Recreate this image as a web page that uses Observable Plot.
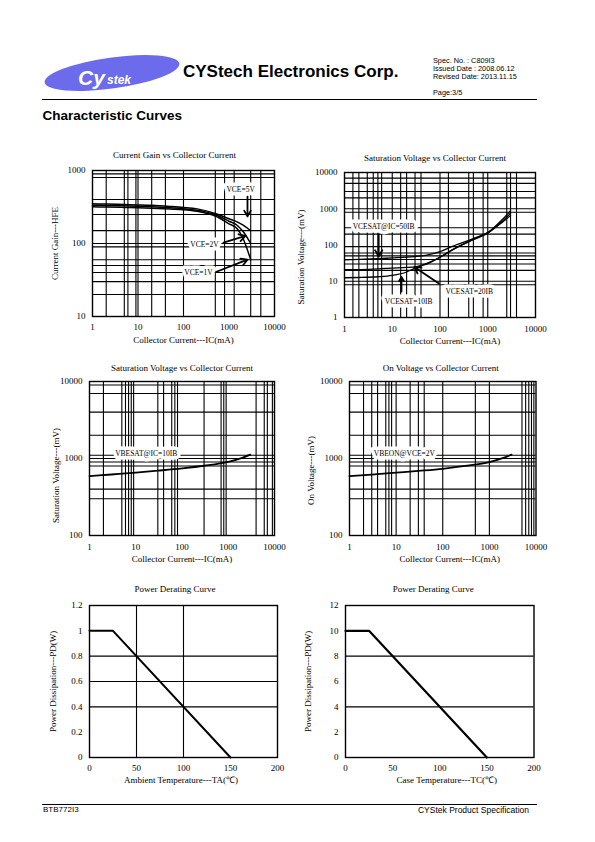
<!DOCTYPE html>
<html><head><meta charset="utf-8">
<script src="https://cdn.jsdelivr.net/npm/d3@7"></script>
<script src="https://cdn.jsdelivr.net/npm/@observablehq/plot@0.6"></script>
<style>
body{margin:0;background:#fff;}
#page{position:relative;width:595px;height:842px;overflow:hidden;font-family:"Liberation Sans",Arial,sans-serif;color:#000;}
.abs{position:absolute;white-space:nowrap;line-height:1;}
.rule{position:absolute;height:0;border-top:1.2px solid #000;}
</style></head><body><div id="page">
<svg class="abs" style="left:40px;top:50px" width="150" height="45">
  <ellipse cx="72" cy="23" rx="68" ry="15.5" transform="rotate(-8 72 23)" fill="#6b6bec"/>
  <text x="38" y="35" fill="#fff" font-family="Liberation Sans" font-weight="bold" font-style="italic" font-size="21">Cy</text>
  <text x="67" y="34" fill="#fff" font-family="Liberation Sans" font-weight="bold" font-style="italic" font-size="12">stek</text>
</svg>
<div class="abs" style="left:183px;top:62.9px;font-weight:bold;font-size:17px;">CYStech Electronics Corp.</div>
<div class="abs" style="left:433px;top:57px;font-size:7.3px;">Spec. No. : C809I3</div>
<div class="abs" style="left:433px;top:65px;font-size:7.3px;">Issued Date : 2008.06.12</div>
<div class="abs" style="left:433px;top:73px;font-size:7.3px;">Revised Date: 2013.11.15</div>
<div class="abs" style="left:433px;top:89px;font-size:7.3px;">Page:3/5</div>
<div class="rule" style="left:42px;width:495px;top:99px;"></div>
<div class="abs" style="left:42.5px;top:109.3px;font-weight:bold;font-size:13.5px;">Characteristic Curves</div>
<div class="rule" style="left:42px;width:495px;top:803.5px;"></div>
<div class="abs" style="left:43px;top:805.5px;font-size:8px;">BTB772I3</div>
<div class="abs" style="right:66px;top:805.5px;font-size:8.5px;">CYStek Product Specification</div>
</div>
<script>
// ---------- data ----------
const logTicks = [1, 10, 100, 1000, 10000];

// Chart 1: Current gain vs collector current
const icGain = [1, 2, 5, 10, 20, 50, 100, 200, 500, 1000, 1500, 2000, 3000];
const hfe5V = [350, 347, 342, 338, 333, 322, 312, 298, 258, 218, 198, 180, 150];
const hfe2V = [335, 332, 328, 324, 318, 308, 300, 285, 248, 202, 178, 148, 100];
const hfe1V = [318, 316, 312, 308, 303, 296, 290, 276, 238, 186, 160, 120, 60];
const gainGridX = [2, 5, 6, 9, 10, 20, 40, 100, 500, 800, 1300, 3000, 5000];
const gainGridY = [20, 30, 40, 50, 60, 90, 100, 150, 250, 400, 800, 900];
const gainLabels = [
  {x: 1800, y: 550, text: "VCE=5V"},
  {x: 290, y: 97, text: "VCE=2V"},
  {x: 214, y: 40, text: "VCE=1V"}
];
const gainArrows = [
  {x1: 2550, y1: 440, x2: 2550, y2: 235},
  {x1: 757, y1: 103, x2: 2300, y2: 127},
  {x1: 531, y1: 41, x2: 2550, y2: 60}
];

// Chart 2: VCE(sat) vs collector current
const icSat = [1, 2, 5, 10, 20, 30, 50, 100, 200, 500, 1000, 2000, 3000];
const vce50IB = [39, 40, 42, 44, 46, 48, 52, 66, 97, 150, 220, 420, 650];
const vce20IB = [21, 21, 22, 23, 24, 25, 29, 46, 80, 140, 210, 450, 750];
const vce10IB = [12.5, 12.7, 13.3, 14.5, 18, 23, 30, 46, 78, 145, 220, 500, 880];
const satGridX = [1.5, 2, 3, 4, 5, 6, 10, 15, 20, 30, 40, 100, 150, 400, 500, 800, 1000, 2500, 3000, 4000];
const satGridY = [8, 10, 20, 30, 40, 50, 60, 90, 200, 300, 800, 1000, 2000, 3000, 5000, 7000];
const satLabels = [
  {x: 6.6, y: 324, text: "VCESAT@IC=50IB"},
  {x: 22, y: 2.76, text: "VCESAT=10IB"},
  {x: 408, y: 5.2, text: "VCESAT=20IB"}
];
const satArrows = [
  {x1: 5.2, y1: 195, x2: 5.2, y2: 48},
  {x1: 15.6, y1: 5.2, x2: 15.6, y2: 13.1},
  {x1: 95, y1: 8.7, x2: 29, y2: 24.7}
];

// Chart 3: VBE(sat)
const icVbe = [1, 3, 10, 30, 100, 300, 1000, 2000, 3000];
const vbeSat = [590, 620, 655, 695, 745, 805, 905, 1020, 1120];
const vbeSatGridX = [2, 5, 6, 7, 8, 9, 30, 40, 60, 70, 80, 300, 700, 800, 900, 4000, 6000, 7000, 9000];
const vbeGridY = [300, 400, 800, 900, 1000, 1100, 2000, 4000, 7000, 9000];
const vbeSatLabel = [{x: 16.8, y: 1161, text: "VBESAT@IC=10IB"}];

// Chart 4: VBE(on)
const vbeOn = [590, 618, 655, 690, 735, 800, 900, 1020, 1120];
const vbeOnGridX = [2, 3, 4, 6, 7, 8, 10, 20, 30, 40, 100, 500, 1000, 5000, 6000, 7000, 8000, 9000];
const vbeOnLabel = [{x: 15, y: 1161, text: "VBEON@VCE=2V"}];

// Chart 5: derating vs ambient temperature
const taPts = [0, 25, 150];
const pdAmb = [1, 1, 0];
const ambTicksX = [0, 50, 100, 150, 200];
const ambTicksY = [0, 0.2, 0.4, 0.6, 0.8, 1, 1.2];
const ambGridX = [50, 100];
const ambGridY = [0.4, 0.6, 0.8];

// Chart 6: derating vs case temperature
const tcPts = [0, 25, 150];
const pdCase = [10, 10, 0];
const caseTicksY = [0, 2, 4, 6, 8, 10, 12];
const caseGridY = [4, 8];

// ---------- layout ----------
const page = document.getElementById("page");
const M = {l: 60, r: 16, t: 26, b: 40};
const serif = "'Liberation Serif', 'Times New Roman', serif";
const plain = {fontWeight: 400, lineAnchor: "middle", fill: "#000", stroke: "none", fontFamily: "Liberation Serif"};

function makeChart(o) {
  const w = o.fx1 - o.fx0, h = o.fy1 - o.fy0;
  const marks = [
    ...(o.gridX ? [Plot.ruleX(o.gridX, {stroke: "black", strokeWidth: 1.1})] : []),
    ...(o.gridY ? [Plot.ruleY(o.gridY, {stroke: "black", strokeWidth: 1.1})] : []),
    Plot.frame({stroke: "black", strokeWidth: 1.4}),
    ...o.marks,
    Plot.axisX({ticks: o.xTicks, tickFormat: o.xFmt, tickSize: 0, tickPadding: o.xPad, label: null, fontSize: 9}),
    Plot.axisY({ticks: o.yTicks, tickFormat: o.yFmt, tickSize: 0, tickPadding: 7, label: null, fontSize: 9}),
    Plot.text([o.title], {text: d => d, frameAnchor: "top", dx: o.tdx, dy: o.tdy, fontSize: 9, ...plain}),
    Plot.text([o.xlabel], {text: d => d, frameAnchor: "bottom", dx: o.xdx, dy: o.xdy, fontSize: 9, ...plain}),
    Plot.text([o.ylabel], {text: d => d, frameAnchor: "left", rotate: -90, textAnchor: "middle", dx: o.ydx, dy: o.ydy, fontSize: 9, ...plain})
  ];
  const svg = Plot.plot({
    width: w + M.l + M.r, height: h + M.t + M.b,
    marginLeft: M.l, marginRight: M.r, marginTop: M.t, marginBottom: M.b,
    style: {fontFamily: serif, fontSize: "9px", fontWeight: "normal", background: "transparent", overflow: "visible"},
    x: o.x, y: o.y,
    marks
  });
  svg.style.position = "absolute";
  svg.style.left = (o.fx0 - M.l) + "px";
  svg.style.top = (o.fy0 - M.t) + "px";
  page.appendChild(svg);
}

const fmtD = d3.format("d");
const fmtS = d => String(d);
const lineStyle = {stroke: "black", strokeWidth: 1.5, curve: "monotone-x"};
const labelStyle = {x: "x", y: "y", text: "text", fontSize: 7.5, fill: "black", stroke: "white", strokeWidth: 7, fontWeight: 400};
const arrowStyle = {x1: "x1", y1: "y1", x2: "x2", y2: "y2", stroke: "black", strokeWidth: 1.8, headLength: 6};

// Chart 1
makeChart({
  fx0: 92, fx1: 274, fy0: 170, fy1: 316,
  x: {type: "log", domain: [1, 10000]}, y: {type: "log", domain: [10, 1000]},
  xTicks: logTicks, yTicks: [10, 100, 1000], xFmt: fmtD, yFmt: fmtD, xPad: 7,
  gridX: gainGridX, gridY: gainGridY,
  title: "Current Gain vs Collector Current", tdx: -9, tdy: -15,
  xlabel: "Collector Current---IC(mA)", xdx: 0, xdy: 23.5,
  ylabel: "Current Gain---HFE", ydx: -37, ydy: 0,
  marks: [
    Plot.line(hfe5V, {x: icGain, y: hfe5V, ...lineStyle}),
    Plot.line(hfe2V, {x: icGain, y: hfe2V, ...lineStyle}),
    Plot.line(hfe1V, {x: icGain, y: hfe1V, ...lineStyle}),
    Plot.text(gainLabels, labelStyle),
    Plot.arrow(gainArrows, arrowStyle)
  ]
});

// Chart 2
makeChart({
  fx0: 344, fx1: 535, fy0: 172, fy1: 317,
  x: {type: "log", domain: [1, 10000]}, y: {type: "log", domain: [1, 10000]},
  xTicks: logTicks, yTicks: logTicks, xFmt: fmtD, yFmt: fmtD, xPad: 8,
  gridX: satGridX, gridY: satGridY,
  title: "Saturation Voltage vs Collector Current", tdx: -5, tdy: -14,
  xlabel: "Collector Current---IC(mA)", xdx: 10, xdy: 23.5,
  ylabel: "Saturation Voltage---(mV)", ydx: -43, ydy: 12,
  marks: [
    Plot.line(vce50IB, {x: icSat, y: vce50IB, ...lineStyle, strokeWidth: 1.3}),
    Plot.line(vce20IB, {x: icSat, y: vce20IB, ...lineStyle, strokeWidth: 1.3}),
    Plot.line(vce10IB, {x: icSat, y: vce10IB, ...lineStyle, strokeWidth: 1.3}),
    Plot.text(satLabels, labelStyle),
    Plot.arrow(satArrows, arrowStyle)
  ]
});

// Chart 3
makeChart({
  fx0: 88.5, fx1: 273.5, fy0: 381, fy1: 535,
  x: {type: "log", domain: [1, 10000]}, y: {type: "log", domain: [100, 10000]},
  xTicks: logTicks, yTicks: [100, 1000, 10000], xFmt: fmtD, yFmt: fmtD, xPad: 8,
  gridX: vbeSatGridX, gridY: vbeGridY,
  title: "Saturation Voltage vs Collector Current", tdx: 0, tdy: -13,
  xlabel: "Collector Current---IC(mA)", xdx: 0, xdy: 24,
  ylabel: "Saturation Voltage---(mV)", ydx: -33, ydy: 17,
  marks: [
    Plot.line(vbeSat, {x: icVbe, y: vbeSat, ...lineStyle, strokeWidth: 1.8}),
    Plot.text(vbeSatLabel, labelStyle)
  ]
});

// Chart 4
makeChart({
  fx0: 348.5, fx1: 535, fy0: 381, fy1: 535,
  x: {type: "log", domain: [1, 10000]}, y: {type: "log", domain: [100, 10000]},
  xTicks: logTicks, yTicks: [100, 1000, 10000], xFmt: fmtD, yFmt: fmtD, xPad: 8,
  gridX: vbeOnGridX, gridY: vbeGridY,
  title: "On Voltage vs Collector Current", tdx: -2, tdy: -13,
  xlabel: "Collector Current---IC(mA)", xdx: 7, xdy: 24,
  ylabel: "On Voltage---(mV)", ydx: -38, ydy: 12,
  marks: [
    Plot.line(vbeOn, {x: icVbe, y: vbeOn, ...lineStyle, strokeWidth: 1.8}),
    Plot.text(vbeOnLabel, labelStyle)
  ]
});

// Chart 5
makeChart({
  fx0: 88.5, fx1: 276.5, fy0: 604.5, fy1: 756.5,
  x: {domain: [0, 200]}, y: {domain: [0, 1.2]},
  xTicks: ambTicksX, yTicks: ambTicksY, xFmt: fmtS, yFmt: fmtS, xPad: 7,
  gridX: ambGridX, gridY: ambGridY,
  title: "Power Derating Curve", tdx: -8.5, tdy: -16,
  xlabel: "Ambient Temperature---TA(℃)", xdx: -2.5, xdy: 22.5,
  ylabel: "Power Dissipation---PD(W)", ydx: -36, ydy: 0,
  marks: [
    Plot.line(pdAmb, {x: taPts, y: pdAmb, stroke: "black", strokeWidth: 2})
  ]
});

// Chart 6
makeChart({
  fx0: 345, fx1: 533.5, fy0: 604.5, fy1: 756.5,
  x: {domain: [0, 200]}, y: {domain: [0, 12]},
  xTicks: ambTicksX, yTicks: caseTicksY, xFmt: fmtS, yFmt: fmtS, xPad: 7,
  gridX: null, gridY: caseGridY,
  title: "Power Derating Curve", tdx: -6.5, tdy: -16,
  xlabel: "Case Temperature---TC(℃)", xdx: 7, xdy: 22.5,
  ylabel: "Power Dissipation---PD(W)", ydx: -37, ydy: 0,
  marks: [
    Plot.line(pdCase, {x: tcPts, y: pdCase, stroke: "black", strokeWidth: 2.2})
  ]
});
</script>
</body></html>
